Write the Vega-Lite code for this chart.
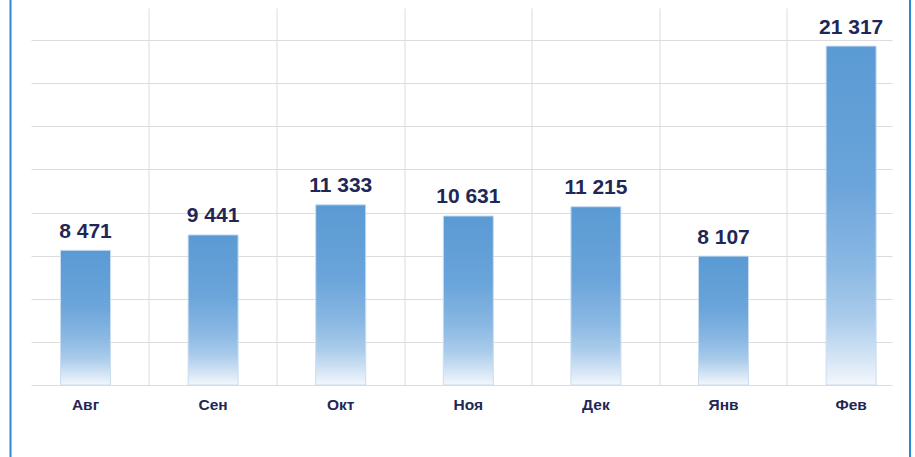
{
  "$schema": "https://vega.github.io/schema/vega-lite/v6.json",
  "width": 899.5,
  "height": 470,
  "autosize": {"type": "none"},
  "padding": {"left": 10.5, "top": -5, "right": 5, "bottom": -8},
  "background": "white",
  "view": {"stroke": "#2e86d6", "strokeWidth": 2, "fill": "white"},
  "config": {
    "font": "Liberation Sans",
    "locale": {"number": {"decimal": ",", "thousands": " ", "grouping": [3], "currency": ["", " ₽"]}}
  },
  "data": {
    "values": [
      {"month": "Авг", "value": 8471},
      {"month": "Сен", "value": 9441},
      {"month": "Окт", "value": 11333},
      {"month": "Ноя", "value": 10631},
      {"month": "Дек", "value": 11215},
      {"month": "Янв", "value": 8107},
      {"month": "Фев", "value": 21317}
    ]
  },
  "layer": [
    {
      "mark": {
        "type": "bar",
        "fill": {
          "gradient": "linear", "x1": 0, "y1": 0, "x2": 0, "y2": 1,
          "stops": [
            {"offset": 0, "color": "#5a9ad4"},
            {"offset": 0.4, "color": "#6aa4da"},
            {"offset": 0.65, "color": "#8ab8e3"},
            {"offset": 0.8, "color": "#a9cbea"},
            {"offset": 0.9, "color": "#cde0f3"},
            {"offset": 1, "color": "#f2f7fc"}
          ]
        },
        "stroke": "#c9ddf1",
        "strokeWidth": 1
      },
      "encoding": {
        "x": {
          "field": "month", "type": "nominal", "sort": null,
          "scale": {"range": [20.5, 881.5], "paddingInner": 0.6082, "paddingOuter": 0.1779, "align": 0.65},
          "axis": {
            "orient": "bottom", "offset": -80, "labelPadding": 12.5, "ticks": false, "tickSize": 0,
            "domain": false, "grid": false, "title": null, "labelAngle": 0,
            "labelFont": "Liberation Sans", "labelFontWeight": "bold", "labelFontSize": 15.5, "labelColor": "#1f2756"
          }
        },
        "y": {
          "field": "value", "type": "quantitative",
          "scale": {"domain": [0, 23713], "range": [390, 13], "nice": false, "zero": true},
          "axis": {
            "grid": true, "values": [0, 2712, 5424, 8136, 10848, 13560, 16272, 18984, 21696],
            "labels": false, "ticks": false, "domain": false, "title": null, "gridColor": "#dcdcdc", "gridWidth": 1
          }
        }
      }
    },
    {
      "mark": {"type": "text", "baseline": "alphabetic", "dy": -12.5, "font": "Liberation Sans", "fontWeight": "bold", "fontSize": 21, "color": "#1f2756"},
      "encoding": {
        "x": {
          "field": "month", "type": "nominal", "sort": null,
          "scale": {"range": [20.5, 881.5], "paddingInner": 0.6082, "paddingOuter": 0.1779, "align": 0.65},
          "axis": {
            "orient": "top", "grid": true, "values": ["Авг", "Сен", "Окт", "Ноя", "Дек", "Янв"],
            "bandPosition": 1.776, "labels": false, "ticks": false, "domain": false, "title": null,
            "gridColor": "#dcdcdc", "gridWidth": 1
          }
        },
        "y": {"field": "value", "type": "quantitative"},
        "text": {"field": "value", "type": "quantitative", "format": ",d"}
      }
    }
  ],
  "resolve": {"axis": {"x": "independent"}}
}
